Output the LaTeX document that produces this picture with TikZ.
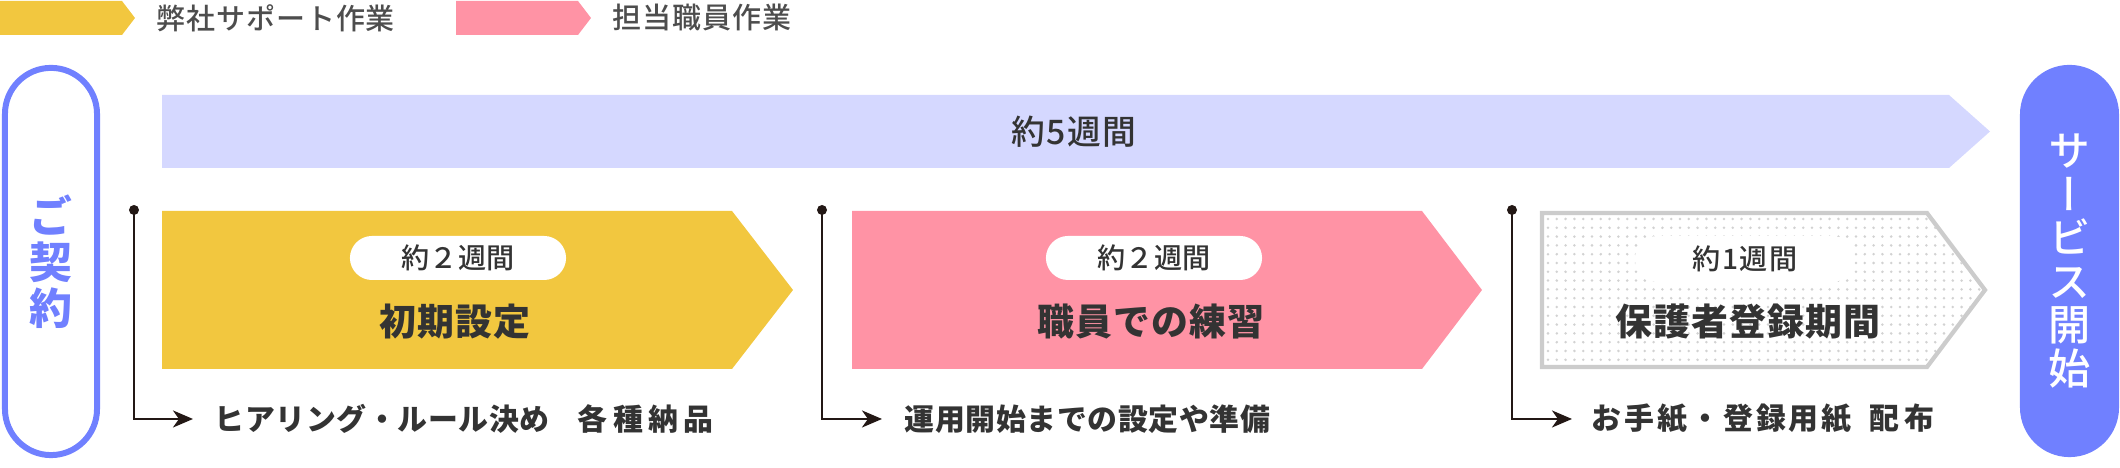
\documentclass[tikz,border=0pt]{standalone}
\usepackage{fontspec}
\setmainfont{Noto Sans CJK JP}
\newfontfamily\jpmedium{Noto Sans CJK JP Medium}
\usetikzlibrary{arrows.meta}
\definecolor{mustard}{HTML}{F2C73F}
\definecolor{rose}{HTML}{FF93A5}
\definecolor{lilac}{HTML}{D5D8FF}
\definecolor{periwinkle}{HTML}{7080FF}
\definecolor{ink}{HTML}{333333}
\definecolor{legendgray}{HTML}{4D4D4D}
\definecolor{lineblack}{HTML}{231815}
\definecolor{framegray}{HTML}{CCCCCC}
\definecolor{dotgray}{HTML}{D2D2D2}
\newcommand\wide[2]{{\addfontfeature{LetterSpace=#1}#2}}
\tikzset{
  legendtext/.style={anchor=west, inner sep=0pt, text=legendgray, font=\jpmedium\fontsize{8.25}{10}\selectfont\addfontfeature{LetterSpace=3}},
  endpill/.style={rounded corners=0.46cm, minimum width=0.92cm, minimum height=3.87cm, inner sep=0pt, align=center},
  weekpill/.style={fill=white, rounded corners=0.22cm, minimum width=2.16cm, minimum height=0.44cm, inner sep=0pt, text=ink, font=\jpmedium\fontsize{8}{10}\selectfont},
  stagetitle/.style={inner sep=0pt, text=ink, font=\bfseries\fontsize{10.5}{12}\selectfont\addfontfeature{LetterSpace=3}},
  steptext/.style={anchor=west, inner sep=0pt, text=ink, font=\bfseries\fontsize{8.5}{10}\selectfont\addfontfeature{LetterSpace=2}},
  leaderdot/.style={circle, fill=lineblack, inner sep=0pt, minimum size=0.1cm},
  leader/.style={draw=lineblack, line width=0.7pt, -{Stealth[length=0.2cm, width=0.17cm, inset=0.06cm]}},
}

\begin{document}
\begin{tikzpicture}[x=0.01cm, y=-0.01cm]
\useasboundingbox (0,0) rectangle (2120,468);
% legend
\fill[mustard] (0,1) -- (122,1) -- (135,18) -- (122,35) -- (0,35) -- cycle;
\node[legendtext] (legendours) at (156,18) {弊社サポート作業};
\fill[rose] (456,1) -- (578,1) -- (591,18) -- (578,35) -- (456,35) -- cycle;
\node[legendtext] (legendstaff) at (612,18) {担当職員作業};
% start and end
\node[endpill, draw=periwinkle, line width=1.7pt, text=periwinkle, font=\bfseries\fontsize{12.2}{13.1}\selectfont] (contract) at (51,261.5) {ご\\契\\約};
\node[endpill, fill=periwinkle, rounded corners=0.495cm, minimum width=0.99cm, minimum height=3.92cm, text=white, font=\jpmedium\fontsize{12}{12.4}\selectfont\addfontfeature{RawFeature=+vert}] (servicestart) at (2069.5,261) {サ\\ー\\ビ\\ス\\開\\始};
% total span
\fill[lilac] (162,95) -- (1949,95) -- (1990,131.5) -- (1949,168) -- (162,168) -- cycle;
\node[inner sep=0pt, text=ink, font=\jpmedium\fontsize{9.6}{11}\selectfont\addfontfeature{LetterSpace=4}] (total) at (1074,132) {約5週間};
% stage 1
\fill[mustard] (162,211) -- (732,211) -- (793,290) -- (732,369) -- (162,369) -- cycle;
\node[weekpill] (week1) at (458,258) {約２週間};
\node[stagetitle] (stage1) at (455,322) {初期設定};
% stage 2
\fill[rose] (852,211) -- (1422,211) -- (1482,290) -- (1422,369) -- (852,369) -- cycle;
\node[weekpill] (week2) at (1154,258) {約２週間};
\node[stagetitle] (stage2) at (1151,322) {職員での練習};
% stage 3
\fill[white] (1542,213) -- (1927,213) -- (1985,290) -- (1927,367) -- (1542,367) -- cycle;
\begin{scope}
\clip (1544,215) -- (1926,215) -- (1982,290) -- (1926,365) -- (1544,365) -- cycle;
\foreach \i in {0,...,50}
  \foreach \j in {0,...,17}
    \fill[dotgray] (1548+\i*8.8, 219+\j*8.8) circle (0.014cm);
\end{scope}
\node[weekpill, minimum width=2.2cm, minimum height=0.46cm, rounded corners=0.23cm, font=\jpmedium\fontsize{8}{10}\selectfont\addfontfeature{LetterSpace=5}] (week3) at (1745,259) {約1週間};
\draw[framegray, line width=1.2pt, line join=miter] (1542,213) -- (1927,213) -- (1985,290) -- (1927,367) -- (1542,367) -- cycle;
\node[stagetitle] (stage3) at (1748,322) {保護者登録期間};
% tasks
\node[leaderdot] (dot1) at (134,210) {};
\node[steptext] (task1) at (214,419) {ヒアリング・ルール決め\hspace{0.95em}\wide{18}{各種納品}};
\draw[leader] (dot1.center) |- ([xshift=-0.21cm]task1.west);
\node[leaderdot] (dot2) at (822,210) {};
\node[steptext] (task2) at (904,419) {運用開始までの設定や準備};
\draw[leader] (dot2.center) |- ([xshift=-0.22cm]task2.west);
\node[leaderdot] (dot3) at (1512,210) {};
\node[steptext] (task3) at (1591,419) {\wide{10}{お手紙・登録用紙}\hspace{0.6em}\wide{18}{配布}};
\draw[leader] (dot3.center) |- ([xshift=-0.19cm]task3.west);
\end{tikzpicture}
\end{document}
